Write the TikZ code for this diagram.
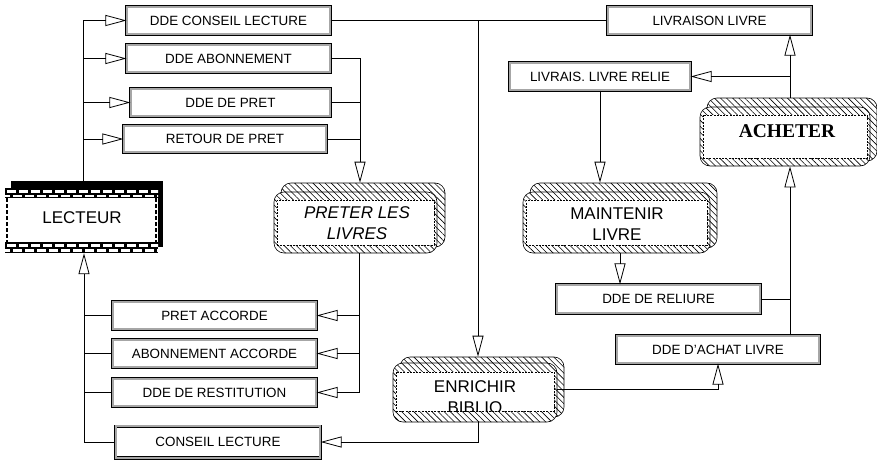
\documentclass[tikz,border=0pt]{standalone}
\usepackage{fontspec}
\setmainfont{Liberation Sans}
\newfontfamily\achfont{Liberation Serif}
\usetikzlibrary{arrows.meta,patterns.meta}
\begin{document}
\begin{tikzpicture}[x=1pt,y=-1pt,
  box/.style={draw=black, line width=0.6pt, double=gray!70, double distance=2.2pt, fill=white, inner sep=0pt,
    font=\fontsize{13.4}{16}\selectfont, minimum height=27.6pt},
  hatch/.style={rounded corners=10pt, draw=black, line width=0.6pt, preaction={fill=white},
    pattern={Lines[angle=-45,distance=4.3pt,line width=0.6pt]}, inner sep=0pt},
  innerw/.style={fill=white, draw=black, line width=0.5pt, dash pattern=on 2pt off 1.2pt, inner sep=0pt},
  ptext/.style={font=\fontsize{17}{21}\selectfont, align=center, inner sep=0pt},
  conn/.style={line width=0.8pt},
  arr/.style={conn, -{Triangle[open, length=21pt, width=11pt, line width=0.8pt]}},
]
\useasboundingbox (0,0) rectangle (877,460);

% ---------- boxes ----------
\node[box, minimum width=203.6pt] (dcl) at (228.5,20.5) {DDE CONSEIL LECTURE};
\node[box, minimum width=203.6pt] (dab) at (228.5,58.5) {DDE ABONNEMENT};
\node[box, minimum width=199.6pt] (dpr) at (230.5,102.5) {DDE DE PRET};
\node[box, minimum width=202.6pt, minimum height=26.6pt] (ret) at (225,139) {RETOUR DE PRET};
\node[box, minimum width=203.6pt] (pac) at (214.5,315.5) {PRET ACCORDE};
\node[box, minimum width=203.6pt] (aac) at (214.5,353.5) {ABONNEMENT ACCORDE};
\node[box, minimum width=203.6pt] (res) at (214.5,392.5) {DDE DE RESTITUTION};
\node[box, minimum width=204.6pt, minimum height=31.6pt] (cl) at (218,442) {CONSEIL LECTURE};
\node[box, minimum width=203.6pt] (liv) at (709.5,20.5) {LIVRAISON LIVRE};
\node[box, minimum width=180.6pt] (lrl) at (600,76.5) {LIVRAIS. LIVRE RELIE};
\node[box, minimum width=203.6pt, minimum height=28.6pt] (rel) at (658.5,299) {DDE DE RELIURE};
\node[box, minimum width=202.6pt] (ach) at (718,349.5) {DDE D'ACHAT LIVRE};

% ---------- LECTEUR ----------
\node[fill=black, minimum width=152pt, minimum height=66pt, inner sep=0pt] (lectS) at (87,214) {};
\node[fill=white, minimum width=153pt, minimum height=65pt, inner sep=0pt] (lect) at (81.5,220.5) {};
\begin{scope}
  \clip (5,188) rectangle (158,253);
  \fill[black] (5,188) rectangle (158,198);
  \fill[black] (5,242) rectangle (158,253);
  \foreach \x in {7,19,...,163} {
    \fill[white] (\x,190) rectangle ++(9,3);
    \fill[white] (\x,244) rectangle ++(9,3);
  }
  \foreach \x in {1,13,...,163} {
    \fill[white] (\x,194.5) rectangle ++(9,2.5);
    \fill[white] (\x,248.5) rectangle ++(9,3);
  }
\end{scope}
\draw[line width=2pt, dash pattern=on 4pt off 2pt] (7,198) -- (7,242);
\draw[line width=2pt, dash pattern=on 4pt off 2pt] (156,198) -- (156,242);
\node[ptext] at (82,218) {LECTEUR};

% ---------- processes ----------
% PRETER LES LIVRES
\node[hatch, minimum width=164pt, minimum height=64pt] (pretS) at (363,215) {};
\node[hatch, minimum width=163pt, minimum height=61pt] (pret) at (355.5,222.5) {};
\node[innerw, minimum width=157pt, minimum height=45pt] at (pret) {};
\node[ptext, font=\fontsize{17}{21}\selectfont\itshape] at (357,223.5) {PRETER LES\\LIVRES};

% MAINTENIR LIVRE
\node[hatch, minimum width=187pt, minimum height=65pt] (mntS) at (623.5,215.5) {};
\node[hatch, minimum width=187pt, minimum height=61pt] (mnt) at (616.5,222.5) {};
\node[innerw, minimum width=181pt, minimum height=45pt] at (mnt) {};
\node[ptext] at (617,224) {MAINTENIR\\LIVRE};

% ENRICHIR BIBLIO
\node[hatch, minimum width=164pt, minimum height=60pt] (enrS) at (482,387) {};
\node[hatch, minimum width=164pt, minimum height=59pt] (enr) at (475,392.5) {};
\node[innerw, minimum width=158pt, minimum height=39pt] (enrI) at (475,391.5) {};
\begin{scope}
  \clip (enrI.north west) rectangle (enrI.south east);
  \node[ptext] at (475,397) {ENRICHIR\\BIBLIO};
\end{scope}

% ACHETER
\node[hatch, minimum width=170pt, minimum height=63pt] (achtS) at (792,129.5) {};
\node[hatch, minimum width=170pt, minimum height=59pt] (acht) at (785,136.5) {};
\node[innerw, minimum width=164pt, minimum height=43pt] at (acht) {};
\node[inner sep=0pt, font=\fontsize{19.5}{22}\selectfont\achfont\bfseries] at (787,131) {ACHETER};

% ---------- connectors ----------
\coordinate (lt) at (83,0);
\coordinate (jr) at (360,0);
\coordinate (jx) at (478,0);
\coordinate (jb) at (359,0);
\coordinate (jl) at (84,0);
\coordinate (jv) at (790,0);
\coordinate (jm) at (620,0);

\draw[conn] (lectS.north -| lt) -- (lt |- dcl);
\foreach \n in {dcl,dab,dpr,ret} \draw[arr] (lt |- \n) -- (\n.west);

\draw[conn] (dab.east) -- (jr |- dab);
\draw[conn] (dpr.east) -- (jr |- dpr);
\draw[conn] (ret.east) -- (jr |- ret);
\draw[arr] (jr |- dab) -- (jr |- pretS.north);

\draw[conn] (dcl.east) -- (liv.west);
\draw[arr] (jx |- dcl) -- (jx |- enrS.north);

\draw[conn] (jb |- pret.south) -- (jb |- res);
\foreach \n in {pac,aac,res} \draw[arr] (jb |- \n) -- (\n.east);

\draw[arr] (jl |- cl) -- (jl |- lect.south);
\foreach \n in {pac,aac,res,cl} \draw[conn] (jl |- \n) -- (\n.west);

\draw[arr] (jx |- enr.south) |- (cl.east);

\draw[arr] ([yshift=3.5pt]enr.east) -| (ach.south);

\draw[arr] (jv |- ach.north) -- (jv |- acht.south);
\draw[conn] (rel.east) -- (jv |- rel);

\draw[arr] (jv |- achtS.north) -- (jv |- liv.south);
\draw[arr] (jv |- lrl) -- (lrl.east);

\draw[arr] (lrl.south) -- (lrl.south |- mntS.north);
\draw[arr] (jm |- mnt.south) -- (jm |- rel.north);
\end{tikzpicture}
\end{document}
